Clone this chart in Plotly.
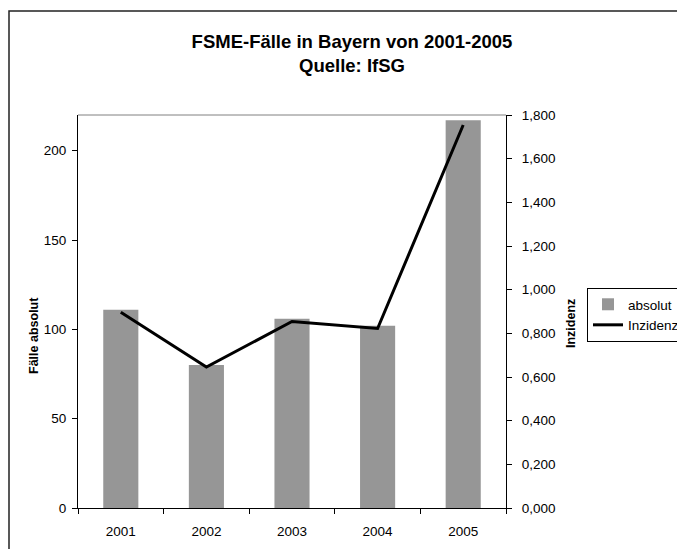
import plotly.graph_objects as go

years = ["2001", "2002", "2003", "2004", "2005"]
absolut = [111, 80, 106, 102, 217]
inzidenz = [0.897, 0.646, 0.854, 0.822, 1.754]
left_ticks = [0, 50, 100, 150, 200]
right_ticks = [0, 0.2, 0.4, 0.6, 0.8, 1.0, 1.2, 1.4, 1.6, 1.8]

OFF = 8  # page body margin
W, H = 685 - OFF, 549 - OFF
# reference pixel positions (page coords)
L, R, T, B = 78, 506, 115, 508
pw, ph = R - L, B - T

def px(x):
    return (x - L) / pw

def py(y):
    return (B - y) / ph

font = "Liberation Sans, Arial, sans-serif"

fig = go.Figure()
fig.add_trace(go.Bar(x=years, y=absolut, name="absolut",
                     marker=dict(color="#969696", line=dict(width=0))))
fig.add_trace(go.Scatter(x=years, y=inzidenz, name="Inzidenz", yaxis="y2",
                         mode="lines", line=dict(color="black", width=3)))

fig.update_layout(
    width=W, height=H,
    margin=dict(l=L - OFF, r=685 - R, t=T - OFF, b=549 - B, pad=0, autoexpand=False),
    paper_bgcolor="white", plot_bgcolor="white",
    separators=",.",
    font=dict(family=font, size=13.5, color="black"),
    bargap=0.59,
    showlegend=True,
    title=dict(text="<b>FSME-Fälle in Bayern von 2001-2005<br>Quelle: IfSG</b>",
               x=(352 - OFF) / W, xref="container", xanchor="center",
               y=1 - 40 / H, yref="container", yanchor="top",
               font=dict(size=18.5, family=font, color="black")),
    xaxis=dict(type="category", showline=True, linecolor="black", linewidth=1,
               ticks="outside", ticklen=5, tickcolor="black", tickson="boundaries",
               showgrid=False, zeroline=False, ticklabelstandoff=11,
               tickfont=dict(size=13.5)),
    yaxis=dict(range=[0, 220], tickvals=left_ticks, showline=True, linecolor="black",
               linewidth=1, ticks="outside", ticklen=5, tickcolor="black",
               showgrid=False, zeroline=False, ticklabelstandoff=3,
               tickfont=dict(size=13.5)),
    yaxis2=dict(range=[0, 1.8], tickvals=right_ticks, tickformat=".3f",
                overlaying="y", side="right", showline=True, linecolor="black",
                linewidth=1, ticks="outside", ticklen=5, tickcolor="black",
                showgrid=False, zeroline=False, ticklabelstandoff=7,
                tickfont=dict(size=13.5)),
    legend=dict(x=px(587), y=py(288), xanchor="left", yanchor="top",
                bordercolor="black", borderwidth=1, bgcolor="white",
                font=dict(size=13.5), itemwidth=30, tracegroupgap=0),
    shapes=[
        dict(type="line", xref="paper", yref="paper", x0=0, x1=1, y0=1, y1=1,
             line=dict(color="#808080", width=1)),
        dict(type="rect", xref="paper", yref="paper", x0=px(9), x1=px(720),
             y0=py(600), y1=py(11), line=dict(color="#222222", width=1.5)),
    ],
    annotations=[
        dict(text="<b>Fälle absolut</b>", x=px(34), y=py(336), xref="paper", yref="paper",
             xanchor="center", yanchor="middle",
             textangle=-90, showarrow=False, font=dict(size=12.5, family=font)),
        dict(text="<b>Inzidenz</b>", x=px(571), y=py(324), xref="paper", yref="paper",
             xanchor="center", yanchor="middle",
             textangle=-90, showarrow=False, font=dict(size=12.5, family=font)),
    ],
)

fig.write_html("out.html")
